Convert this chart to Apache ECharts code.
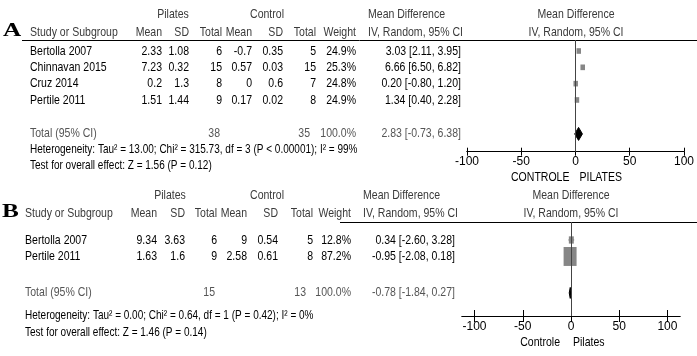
<!DOCTYPE html>
<html><head><meta charset="utf-8">
<script src="https://cdn.jsdelivr.net/npm/echarts@6/dist/echarts.min.js"></script>
<style>html,body{margin:0;padding:0;background:#fff}#c{width:697px;height:356px}</style>
</head><body><div id="c"></div>
<script>
// ---------- Panel A data ----------
const studiesA = ['Bertolla 2007', 'Chinnavan 2015', 'Cruz 2014', 'Pertile 2011'];
const pilMeanA = ['2.33', '7.23', '0.2', '1.51'];
const pilSdA   = ['1.08', '0.32', '1.3', '1.44'];
const pilNA    = [6, 15, 8, 9];
const ctlMeanA = ['-0.7', '0.57', '0', '0.17'];
const ctlSdA   = ['0.35', '0.03', '0.6', '0.02'];
const ctlNA    = [5, 15, 7, 8];
const weightA  = [24.9, 25.3, 24.8, 24.9];
const mdA      = [3.03, 6.66, 0.20, 1.34];
const loA      = [2.11, 6.50, -0.80, 0.40];
const hiA      = [3.95, 6.82, 1.20, 2.28];
const totalNA  = [38, 35];
const totalMdA = [2.83, -0.73, 6.38];
const hetA  = 'Heterogeneity: Tau\u00b2 = 13.00; Chi\u00b2 = 315.73, df = 3 (P < 0.00001); I\u00b2 = 99%';
const testA = 'Test for overall effect: Z = 1.56 (P = 0.12)';
const favA  = ['CONTROLE', 'PILATES'];

// ---------- Panel B data ----------
const studiesB = ['Bertolla 2007', 'Pertile 2011'];
const pilMeanB = ['9.34', '1.63'];
const pilSdB   = ['3.63', '1.6'];
const pilNB    = [6, 9];
const ctlMeanB = ['9', '2.58'];
const ctlSdB   = ['0.54', '0.61'];
const ctlNB    = [5, 8];
const weightB  = [12.8, 87.2];
const mdB      = [0.34, -0.95];
const loB      = [-2.60, -2.08];
const hiB      = [3.28, 0.18];
const totalNB  = [15, 13];
const totalMdB = [-0.78, -1.84, 0.27];
const hetB  = 'Heterogeneity: Tau\u00b2 = 0.00; Chi\u00b2 = 0.64, df = 1 (P = 0.42); I\u00b2 = 0%';
const testB = 'Test for overall effect: Z = 1.46 (P = 0.14)';
const favB  = ['Controle', 'Pilates'];

const axisTicks = [-100, -50, 0, 50, 100];

// ---------- layout / style ----------
const FONT = "'Liberation Sans', Arial, sans-serif";
const FS = 13;
const SX = 0.81;
const SX_NOTE = 0.77;
const L = [
  { label: 'A', labelX: 3, rowHead: -2.27, rowCol: -1.16, rowTot: 5.08, rowHet: 6.06, rowTest: 7.04,
    study: 30, pm: 162, psd: 189, pn: 222, cm: 252, csd: 283, cn: 316, w: 356, md: 461, mdHead: 368,
    totPn: -2, totCn: -6,
    pilC: 173, ctlC: 267, fHead: 576, ruleX: 22, favL: -6, favR: 4, favY: 177, k: 0.9, ratio: 1.25, dh: 6.5 },
  { label: 'B', labelX: 2, rowHead: -2.73, rowCol: -1.64, rowTot: 3.21, rowHet: 4.55, rowTest: 5.58,
    study: 25, pm: 157, psd: 185, pn: 217, cm: 247, csd: 278, cn: 313, w: 351, md: 455, mdHead: 363,
    totPn: -2, totCn: -7,
    pilC: 170, ctlC: 267, fHead: 571, ruleX: 340, favL: -11, favR: 2, favY: 342, k: 1.39, ratio: 1.46, dh: 5.5 }
];

const fmt = v => v.toFixed(2);
const ciText = (m, l, h) => fmt(m) + ' [' + fmt(l) + ', ' + fmt(h) + ']';

function markerSeries(idx, md, lo, hi, w) {
  const lay = L[idx];
  return {
    type: 'custom', xAxisIndex: idx * 2, yAxisIndex: idx,
    data: md.map((m, i) => [m, i, lo[i], hi[i], w[i]]),
    renderItem: function (params, api) {
      const p = api.coord([api.value(0), api.value(1)]);
      const a = api.coord([api.value(2), api.value(1)]);
      const b = api.coord([api.value(3), api.value(1)]);
      const ww = lay.k * Math.sqrt(api.value(4));
      const hh = ww * lay.ratio;
      return { type: 'group', children: [
        { type: 'line', shape: { x1: a[0], y1: p[1], x2: b[0], y2: p[1] }, style: { stroke: '#555', lineWidth: 1 } },
        { type: 'rect', shape: { x: p[0] - ww / 2, y: p[1] - hh / 2, width: ww, height: hh }, style: { fill: '#868686' } }
      ]};
    },
    markLine: { silent: true, symbol: 'none', label: { show: false },
      lineStyle: { color: '#444', width: 1, type: 'solid' }, data: [{ xAxis: 0 }] },
    z: 3
  };
}
function diamondSeries(idx, tot) {
  const lay = L[idx];
  return {
    type: 'custom', xAxisIndex: idx * 2, yAxisIndex: idx,
    data: [[tot[0], lay.rowTot, tot[1], tot[2]]],
    renderItem: function (params, api) {
      const p = api.coord([api.value(0), api.value(1)]);
      const a = api.coord([api.value(2), api.value(1)]);
      const b = api.coord([api.value(3), api.value(1)]);
      const h = lay.dh;
      return { type: 'polygon', shape: { points: [[a[0], p[1]], [p[0], p[1] - h], [b[0], p[1]], [p[0], p[1] + h]] },
        style: { fill: '#000', stroke: '#000', lineWidth: 1 } };
    },
    z: 4
  };
}
function xAxes(grid, min, max, tickLen, margin) {
  const base = { gridIndex: grid, type: 'value', min: min, max: max, position: 'bottom',
    splitLine: { show: false }, axisLine: { show: true, onZero: false, lineStyle: { color: '#000', width: 1 } } };
  return [
    Object.assign({}, base, {
      axisTick: { show: true, length: tickLen, customValues: axisTicks, lineStyle: { color: '#000' } },
      axisLabel: { show: true, customValues: axisTicks, fontSize: 12, color: '#000', fontFamily: FONT, margin: margin }
    }),
    Object.assign({}, base, {
      axisTick: { show: true, inside: true, length: tickLen, customValues: axisTicks, lineStyle: { color: '#000' } },
      axisLabel: { show: false }
    })
  ];
}

const chart = echarts.init(document.getElementById('c'), null, { renderer: 'canvas' });
chart.setOption({
  animation: false,
  backgroundColor: '#fff',
  grid: [
    { left: 467, top: 40, width: 218, height: 111.7 },
    { left: 462, top: 222, width: 218, height: 94 }
  ],
  xAxis: [].concat(xAxes(0, -100, 100, 4, 4), xAxes(1, -113, 113, 6, 5)),
  yAxis: [
    { gridIndex: 0, type: 'value', min: -0.674, max: 6.17, inverse: true, show: false },
    { gridIndex: 1, type: 'value', min: -1.09, max: 4.61, inverse: true, show: false }
  ],
  series: [
    markerSeries(0, mdA, loA, hiA, weightA),
    diamondSeries(0, totalMdA),
    markerSeries(1, mdB, loB, hiB, weightB),
    diamondSeries(1, totalMdB)
  ]
});

// ---------- table text ----------
function T(x, y, text, align, opt) {
  opt = opt || {};
  return { type: 'text', x: x, y: y, scaleX: opt.sx || SX, silent: true, z: 10,
    style: { text: String(text), x: 0, y: 0, fill: opt.color || '#000',
      font: (opt.weight || 'normal') + ' ' + (opt.size || FS) + 'px ' + (opt.family || FONT),
      align: align, textAlign: align, verticalAlign: 'middle', textVerticalAlign: 'middle' } };
}
const els = [];
function panel(idx, d) {
  const lay = L[idx];
  const Y = r => chart.convertToPixel({ yAxisIndex: idx }, r);
  const X = v => chart.convertToPixel({ xAxisIndex: idx * 2 }, v);
  const gH = Y(lay.rowHead), cH = Y(lay.rowCol);
  const grey = '#3a3a3a';
  els.push(T(lay.labelX, cH - 1, lay.label, 'left', { size: 18, weight: 'bold', family: "'Liberation Serif', 'Times New Roman', serif", sx: 1.4 }));
  els.push(T(lay.pilC, gH, 'Pilates', 'center', { color: grey }));
  els.push(T(lay.ctlC, gH, 'Control', 'center', { color: grey }));
  els.push(T(lay.mdHead, gH, 'Mean Difference', 'left', { color: grey }));
  els.push(T(lay.fHead, gH, 'Mean Difference', 'center', { color: grey }));
  els.push(T(lay.study, cH, 'Study or Subgroup', 'left', { color: grey }));
  els.push(T(lay.pm, cH, 'Mean', 'right', { color: grey }));
  els.push(T(lay.psd, cH, 'SD', 'right', { color: grey }));
  els.push(T(lay.pn, cH, 'Total', 'right', { color: grey }));
  els.push(T(lay.cm, cH, 'Mean', 'right', { color: grey }));
  els.push(T(lay.csd, cH, 'SD', 'right', { color: grey }));
  els.push(T(lay.cn, cH, 'Total', 'right', { color: grey }));
  els.push(T(lay.w, cH, 'Weight', 'right', { color: grey }));
  els.push(T(lay.mdHead, cH, 'IV, Random, 95% CI', 'left', { color: grey }));
  els.push(T(lay.fHead, cH, 'IV, Random, 95% CI', 'center', { color: grey }));
  // rule under header
  const ry = Math.round(Y(chart.getModel().getComponent('yAxis', idx).get('min'))) + 0.5;
  els.push({ type: 'line', silent: true, shape: { x1: lay.ruleX, y1: ry, x2: 697, y2: ry }, style: { stroke: '#000', lineWidth: 1 } });
  d.studies.forEach((s, i) => {
    const y = Y(i);
    els.push(T(lay.study, y, s, 'left'));
    els.push(T(lay.pm, y, d.pm[i], 'right'));
    els.push(T(lay.psd, y, d.psd[i], 'right'));
    els.push(T(lay.pn, y, d.pn[i], 'right'));
    els.push(T(lay.cm, y, d.cm[i], 'right'));
    els.push(T(lay.csd, y, d.csd[i], 'right'));
    els.push(T(lay.cn, y, d.cn[i], 'right'));
    els.push(T(lay.w, y, d.w[i].toFixed(1) + '%', 'right'));
    els.push(T(lay.md, y, ciText(d.md[i], d.lo[i], d.hi[i]), 'right'));
  });
  const ty = Y(lay.rowTot);
  const tg = '#555';
  els.push(T(lay.study, ty, 'Total (95% CI)', 'left', { color: tg }));
  els.push(T(lay.pn + lay.totPn, ty, d.totN[0], 'right', { color: tg }));
  els.push(T(lay.cn + lay.totCn, ty, d.totN[1], 'right', { color: tg }));
  els.push(T(lay.w, ty, '100.0%', 'right', { color: tg }));
  els.push(T(lay.md, ty, ciText(d.tot[0], d.tot[1], d.tot[2]), 'right', { color: tg }));
  els.push(T(lay.study, Y(lay.rowHet), d.het, 'left', { sx: SX_NOTE }));
  els.push(T(lay.study, Y(lay.rowTest), d.test, 'left', { sx: SX_NOTE }));
  const x0 = X(0);
  els.push(T(x0 + lay.favL, lay.favY, d.fav[0], 'right'));
  els.push(T(x0 + lay.favR, lay.favY, d.fav[1], 'left'));
}
panel(0, { studies: studiesA, pm: pilMeanA, psd: pilSdA, pn: pilNA, cm: ctlMeanA, csd: ctlSdA, cn: ctlNA,
  w: weightA, md: mdA, lo: loA, hi: hiA, totN: totalNA, tot: totalMdA, het: hetA, test: testA, fav: favA });
panel(1, { studies: studiesB, pm: pilMeanB, psd: pilSdB, pn: pilNB, cm: ctlMeanB, csd: ctlSdB, cn: ctlNB,
  w: weightB, md: mdB, lo: loB, hi: hiB, totN: totalNB, tot: totalMdB, het: hetB, test: testB, fav: favB });
chart.setOption({ graphic: { elements: els } });
</script>
</body></html>
